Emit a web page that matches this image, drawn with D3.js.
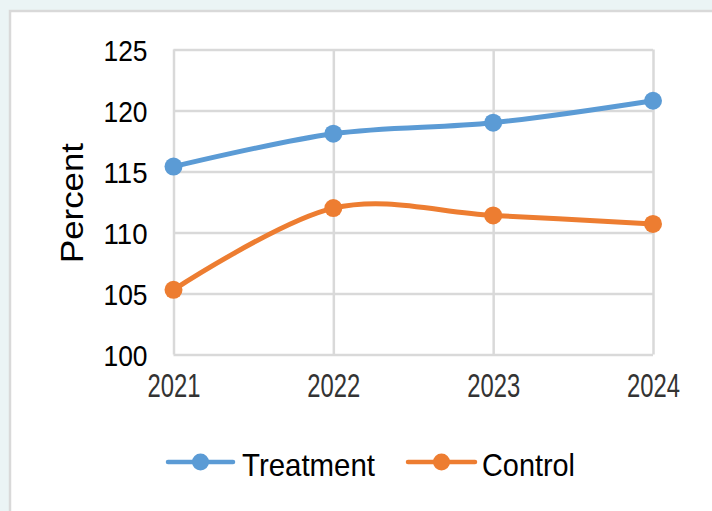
<!DOCTYPE html>
<html>
<head>
<meta charset="utf-8">
<script src="https://cdn.jsdelivr.net/npm/d3@7"></script>
<style>
  html, body { margin: 0; padding: 0; background: #ebf4f5; }
  svg { display: block; }
</style>
</head>
<body>
<svg id="chart" width="712" height="511"></svg>
<script>
// Yearly percentages for the two groups
const years = ["2021", "2022", "2023", "2024"];
const treatment = [115.4, 118.1, 119.0, 120.8];
const control = [105.3, 112.0, 111.4, 110.7];
const yTicks = [100, 105, 110, 115, 120, 125];
const seriesNames = ["Treatment", "Control"];
const seriesColors = ["#5b9bd5", "#ed7d31"];

const svg = d3.select("#chart");
const font = "'Liberation Sans', Arial, sans-serif";

// White card with a light gray edge
svg.append("rect")
  .attr("x", 10).attr("y", 11)
  .attr("width", 720).attr("height", 520)
  .attr("fill", "#ffffff")
  .attr("stroke", "#d9d9d9").attr("stroke-width", 2.5);

const plot = { left: 173.5, right: 653, top: 49.5, bottom: 354.5 };

const x = d3.scalePoint().domain(years).range([plot.left, plot.right]);
const y = d3.scaleLinear().domain([100, 125]).range([plot.bottom, plot.top]);

// Horizontal gridlines and value labels
const yAxis = svg.append("g")
  .attr("transform", `translate(${plot.left},0)`)
  .call(d3.axisLeft(y).tickValues(yTicks)
    .tickSize(-(plot.right - plot.left)).tickPadding(26).tickFormat(d3.format("d")));
yAxis.select(".domain").remove();
yAxis.selectAll(".tick line")
  .attr("stroke", "#d9d9d9").attr("stroke-width", 2.5);
yAxis.selectAll(".tick text")
  .attr("fill", "#000")
  .attr("font-family", font).attr("font-size", 30)
  .attr("dy", "0.36em")
  .attr("textLength", 44).attr("lengthAdjust", "spacingAndGlyphs");

// Vertical gridlines and year labels
const xAxis = svg.append("g")
  .attr("transform", `translate(0,${plot.bottom})`)
  .call(d3.axisBottom(x).tickSize(-(plot.bottom - plot.top)).tickPadding(0));
xAxis.select(".domain").remove();
xAxis.selectAll(".tick line")
  .attr("stroke", "#d9d9d9").attr("stroke-width", 2.5);
xAxis.selectAll(".tick text")
  .attr("fill", "#333")
  .attr("font-family", font).attr("font-size", 33)
  .attr("y", 42).attr("dy", 0)
  .attr("textLength", 53).attr("lengthAdjust", "spacingAndGlyphs");

// Axis title
svg.append("text")
  .attr("transform", "translate(83,203) rotate(-90)")
  .attr("text-anchor", "middle")
  .attr("font-family", font).attr("font-size", 32)
  .attr("fill", "#000")
  .attr("textLength", 120).attr("lengthAdjust", "spacingAndGlyphs")
  .text("Percent");

// Smoothed series lines with round markers
const line = d3.line()
  .x((d, i) => x(years[i]))
  .y(d => y(d))
  .curve(d3.curveCatmullRom.alpha(0));

[treatment, control].forEach((vals, k) => {
  svg.append("path")
    .datum(vals)
    .attr("d", line)
    .attr("fill", "none")
    .attr("stroke", seriesColors[k])
    .attr("stroke-width", 5)
    .attr("stroke-linecap", "round");
  svg.append("g").selectAll("circle")
    .data(vals)
    .join("circle")
    .attr("cx", (d, i) => x(years[i]))
    .attr("cy", d => y(d))
    .attr("r", 9)
    .attr("fill", seriesColors[k]);
});

// Legend
const legendItems = [
  { x0: 168, x1: 233, tx: 242, len: 133 },
  { x0: 408, x1: 475, tx: 482, len: 93 }
];
legendItems.forEach((it, k) => {
  const g = svg.append("g");
  g.append("line")
    .attr("x1", it.x0).attr("x2", it.x1)
    .attr("y1", 462).attr("y2", 462)
    .attr("stroke", seriesColors[k]).attr("stroke-width", 4.5)
    .attr("stroke-linecap", "round");
  g.append("circle")
    .attr("cx", (it.x0 + it.x1) / 2).attr("cy", 462).attr("r", 8.5)
    .attr("fill", seriesColors[k]);
  g.append("text")
    .attr("x", it.tx).attr("y", 476)
    .attr("font-family", font).attr("font-size", 32)
    .attr("fill", "#000")
    .attr("textLength", it.len).attr("lengthAdjust", "spacingAndGlyphs")
    .text(seriesNames[k]);
});
</script>
</body>
</html>
